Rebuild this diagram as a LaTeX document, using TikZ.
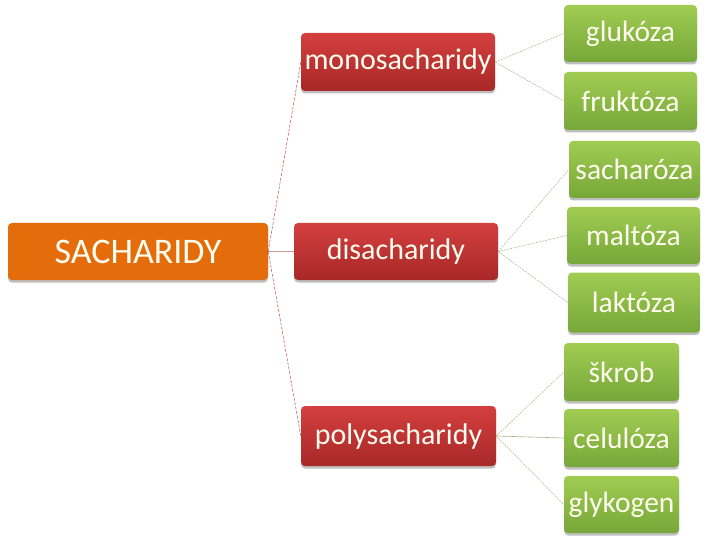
\documentclass[tikz,border=0pt]{standalone}
\usepackage{fontspec}
\setmainfont{Carlito}
\usetikzlibrary{shadows}
\definecolor{orng}{HTML}{E46C0A}
\definecolor{redtop}{HTML}{D43F3F}
\definecolor{redbot}{HTML}{A82828}
\definecolor{grtop}{HTML}{A0CC52}
\definecolor{grbot}{HTML}{77A73A}
\definecolor{redline}{HTML}{B25050}
\definecolor{grline}{HTML}{A8B48C}
\definecolor{txt}{HTML}{FFFDF0}
\tikzset{
  box/.style={rounded corners=4pt, text=txt, inner sep=0pt,
    drop shadow={shadow xshift=0pt, shadow yshift=-2.5pt, opacity=0.25, fill=black}},
  rootbox/.style={box, fill=orng, minimum width=260pt, minimum height=57pt, font=\fontsize{36}{42}\selectfont},
  midbox/.style={box, top color=redtop, bottom color=redbot, font=\fontsize{30}{36}\selectfont},
  leafbox/.style={box, top color=grtop, bottom color=grbot, font=\fontsize{29.5}{35}\selectfont},
  redcon/.style={draw=redline, dashed, dash pattern=on 3pt off 1.5pt, line width=0.5pt},
  grcon/.style={draw=grline, dashed, dash pattern=on 2pt off 1pt, line width=0.5pt}
}
\begin{document}
\begin{tikzpicture}[x=1pt,y=-1pt]
\useasboundingbox (0,0) rectangle (720,540);
\node[rootbox] (S) at (138,251.5) {SACHARIDY};
\node[midbox, minimum width=194pt, minimum height=58pt] (mono) at (398,62) {monosacharidy};
\node[midbox, minimum width=204pt, minimum height=57pt] (di) at (396,251.5) {disacharidy};
\node[midbox, minimum width=195pt, minimum height=60pt] (poly) at (398.5,436) {polysacharidy};
\node[leafbox, minimum width=133pt, minimum height=57pt] (gluk) at (630.5,33.5) {glukóza};
\node[leafbox, minimum width=133pt, minimum height=58pt] (fruk) at (630.5,101) {fruktóza};
\node[leafbox, minimum width=131pt, minimum height=57pt] (sach) at (634.5,169.5) {sacharóza};
\node[leafbox, minimum width=133pt, minimum height=57pt] (malt) at (633.5,235.5) {maltóza};
\node[leafbox, minimum width=132pt, minimum height=60pt] (lakt) at (634,302.5) {laktóza};
\node[leafbox, minimum width=115pt, minimum height=58pt] (skrob) at (621.5,372) {škrob};
\node[leafbox, minimum width=115pt, minimum height=58pt] (cel) at (621.5,438) {celulóza};
\node[leafbox, minimum width=115pt, minimum height=57pt] (glyk) at (621.5,504.5) {glykogen};
\draw[redcon] (S.east) -- (mono.west);
\draw[redline!60, line width=0.5pt] (S.east) -- (di.west);
\draw[redcon] (S.east) -- (poly.west);
\draw[grcon] (mono.east) -- (gluk.west);
\draw[grcon] (mono.east) -- (fruk.west);
\draw[grcon] (di.east) -- (sach.west);
\draw[grcon] (di.east) -- (malt.west);
\draw[grcon] (di.east) -- (lakt.west);
\draw[grcon] (poly.east) -- (skrob.west);
\draw[grline, line width=0.6pt] (poly.east) -- (cel.west);
\draw[grcon] (poly.east) -- (glyk.west);
\end{tikzpicture}
\end{document}
